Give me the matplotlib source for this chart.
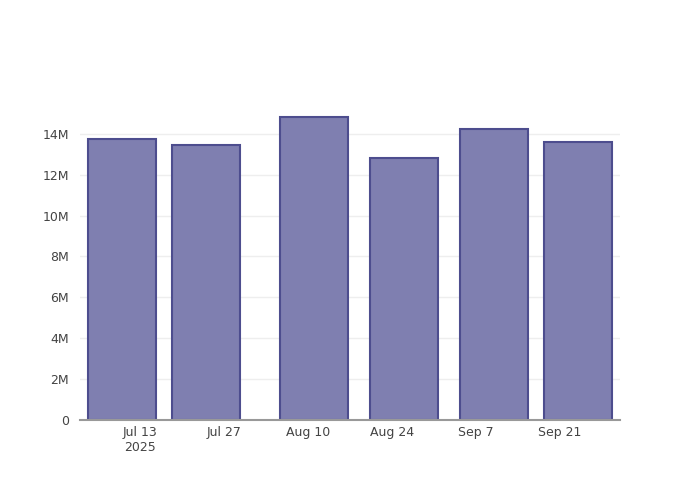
import matplotlib.pyplot as plt
import matplotlib.dates as mdates
import matplotlib.ticker as mticker
import pandas as pd

# Bar dates and values
dates = ["2025-07-10", "2025-07-24", "2025-08-11", "2025-08-26", "2025-09-10", "2025-09-24"]
values = [13.76e6, 13.43e6, 14.84e6, 12.83e6, 14.25e6, 13.62e6]

tick_dates = ["2025-07-13", "2025-07-27", "2025-08-10", "2025-08-24", "2025-09-07", "2025-09-21"]
tick_labels = ["Jul 13\n2025", "Jul 27", "Aug 10", "Aug 24", "Sep 7", "Sep 21"]
y_ticks = [0, 2e6, 4e6, 6e6, 8e6, 10e6, 12e6, 14e6]

x = mdates.date2num(pd.to_datetime(dates))

fig = plt.figure(figsize=(7, 5), dpi=100)
ax = fig.add_axes([80 / 700, 80 / 500, 540 / 700, 320 / 500])

ax.bar(x, values, width=11.3, color="#7f7fb0", edgecolor="#4d4d8e", linewidth=1.5, zorder=3)

ax.set_xlim(mdates.date2num(pd.Timestamp("2025-07-03")), mdates.date2num(pd.Timestamp("2025-10-01")))
ax.set_ylim(0, 15.65e6)

ax.set_xticks(mdates.date2num(pd.to_datetime(tick_dates)))
ax.set_xticklabels(tick_labels)
ax.set_yticks(y_ticks)
ax.yaxis.set_major_formatter(mticker.FuncFormatter(lambda v, p: "0" if v == 0 else f"{v / 1e6:.0f}M"))

ax.tick_params(axis="both", length=0, labelsize=9, colors="#444444")
ax.tick_params(axis="x", pad=4)
ax.tick_params(axis="y", pad=8)

ax.grid(axis="y", color="#eeeeee", linewidth=1, zorder=0)
for side in ["top", "right", "left"]:
    ax.spines[side].set_visible(False)
ax.spines["bottom"].set_color("#999999")
ax.spines["bottom"].set_linewidth(1.5)
ax.spines["bottom"].set_zorder(4)

fig.savefig("out.png", dpi=100)
